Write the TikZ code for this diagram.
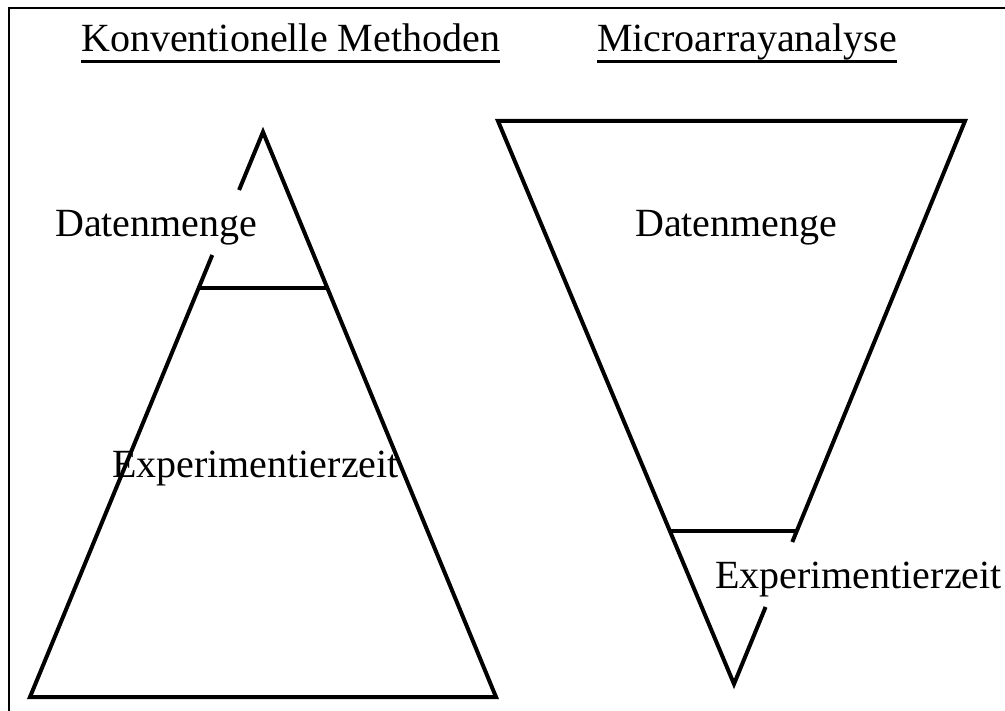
\documentclass[tikz,border=0pt]{standalone}
\usepackage{fontspec}
\setmainfont{Liberation Serif}
\usetikzlibrary{calc}
\begin{document}
\begin{tikzpicture}[x=1pt,y=-1pt,
  lbl/.style={anchor=base west,inner sep=0pt,font=\fontsize{40}{48}\selectfont},
  side/.style={line width=4pt},
  uline/.style={line width=3pt},
  frame/.style={line width=2pt}]
\useasboundingbox (0,0) rectangle (1005,711);
% frame (only left and top edges visible)
\draw[frame] (9.3,711) -- (9.3,8.2) -- (1005,8.2);
% titles
\node[lbl] (t1) at (81,52) {Konventionelle Methoden};
\node[lbl] (t2) at (597,52) {Microarrayanalyse};
\draw[uline] ([yshift=-10pt]t1.base west) -- ([yshift=-10pt]t1.base east);
\draw[uline] ([yshift=-10pt]t2.base west) -- ([yshift=-10pt]t2.base east);
% left triangle
\coordinate (LA) at (263,132);
\coordinate (LBL) at (30,697);
\coordinate (LBR) at (496,697);
\coordinate (Lg1) at ($(LA)!58/565!(LBL)$);
\coordinate (Lg2) at ($(LA)!123/565!(LBL)$);
\coordinate (Lc1) at ($(LA)!156/565!(LBL)$);
\coordinate (Lc2) at ($(LA)!156/565!(LBR)$);
\draw[side] (Lg2) -- (LBL) -- (LBR) -- (LA) -- (Lg1);
\draw[side] (Lc1) -- (Lc2);
\node[lbl] (ld) at (55,237) {Datenmenge};
\node[lbl] (le) at (112,478) {Experimentierzeit};
% right triangle
\coordinate (RTL) at (498,121);
\coordinate (RTR) at (965,121);
\coordinate (RA) at (734,684);
\coordinate (Rg1) at ($(RTR)!421/563!(RA)$);
\coordinate (Rg2) at ($(RTR)!486/563!(RA)$);
\coordinate (Rc1) at ($(RTL)!410/563!(RA)$);
\coordinate (Rc2) at ($(RTR)!410/563!(RA)$);
\draw[side] (Rg2) -- (RA) -- (RTL) -- (RTR) -- (Rg1);
\draw[side] (Rc1) -- (Rc2);
\node[lbl] (rd) at (635,237) {Datenmenge};
\node[lbl] (re) at (715,588) {Experimentierzeit};
\end{tikzpicture}
\end{document}
